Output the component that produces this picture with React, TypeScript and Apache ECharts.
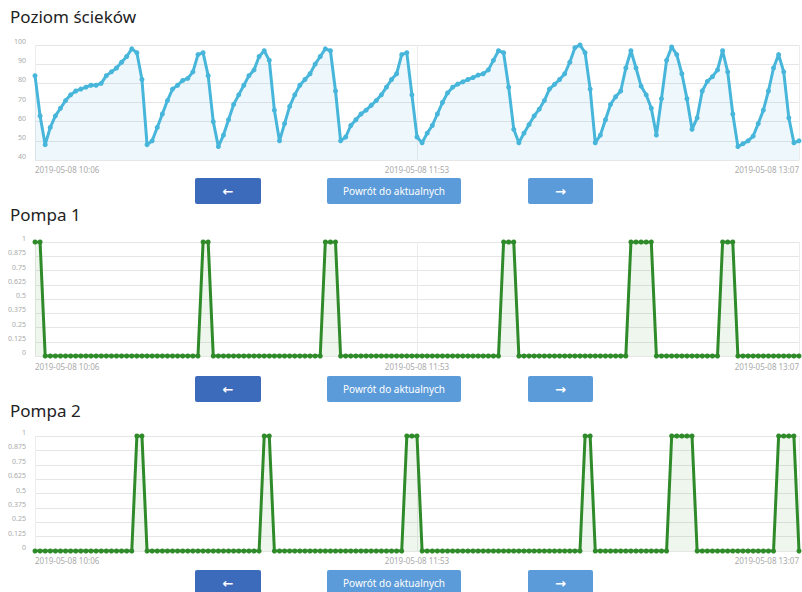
import React, { useEffect, useRef } from "react";
import * as echarts from "echarts";

// Poziom ścieków (level, %)
const levelValues = [
  84, 63, 48, 57, 63, 67, 71, 74, 76, 77,
  78, 79, 79, 80, 84, 86, 88, 91, 94, 98,
  96, 82, 48, 50, 57, 64, 71, 77, 79, 81.5,
  82.6, 86, 95, 96, 84, 60, 47, 53, 61, 69,
  74, 79, 84, 87, 94, 97, 92, 66, 50, 59,
  68, 74, 79, 82, 85, 90, 94, 98, 97, 76,
  50, 52, 58, 61, 64, 66, 68.5, 71, 74, 78,
  82, 85, 95, 96, 74, 52, 49, 54, 58, 64,
  70, 75, 78, 79.6, 80.8, 82, 83, 84.3, 85, 87,
  92, 97, 96, 78, 56, 49, 54, 58.5, 63, 66.5,
  71, 77, 79.5, 82, 85, 91, 98.6, 100, 96, 77,
  49, 53, 61, 69, 73, 76, 88, 97, 88, 78.5,
  74, 67, 53, 72, 92, 99, 95, 85, 72, 56,
  62, 76, 81, 83.5, 87, 97, 86, 64, 47, 48.5,
  50, 52.5, 59, 66, 76, 88, 95, 86, 62, 49,
  50,
];

// Pompa 1 state (0/1)
const pump1Values = [
  1, 1, 0, 0, 0, 0, 0, 0, 0, 0,
  0, 0, 0, 0, 0, 0, 0, 0, 0, 0,
  0, 0, 0, 0, 0, 0, 0, 0, 0, 0,
  0, 0, 0, 1, 1, 0, 0, 0, 0, 0,
  0, 0, 0, 0, 0, 0, 0, 0, 0, 0,
  0, 0, 0, 0, 0, 0, 0, 1, 1, 1,
  0, 0, 0, 0, 0, 0, 0, 0, 0, 0,
  0, 0, 0, 0, 0, 0, 0, 0, 0, 0,
  0, 0, 0, 0, 0, 0, 0, 0, 0, 0,
  0, 0, 1, 1, 1, 0, 0, 0, 0, 0,
  0, 0, 0, 0, 0, 0, 0, 0, 0, 0,
  0, 0, 0, 0, 0, 0, 0, 1, 1, 1,
  1, 1, 0, 0, 0, 0, 0, 0, 0, 0,
  0, 0, 0, 0, 0, 1, 1, 1, 0, 0,
  0, 0, 0, 0, 0, 0, 0, 0, 0, 0,
  0,
];

// Pompa 2 state (0/1)
const pump2Values = [
  0, 0, 0, 0, 0, 0, 0, 0, 0, 0,
  0, 0, 0, 0, 0, 0, 0, 0, 0, 0,
  1, 1, 0, 0, 0, 0, 0, 0, 0, 0,
  0, 0, 0, 0, 0, 0, 0, 0, 0, 0,
  0, 0, 0, 0, 0, 1, 1, 0, 0, 0,
  0, 0, 0, 0, 0, 0, 0, 0, 0, 0,
  0, 0, 0, 0, 0, 0, 0, 0, 0, 0,
  0, 0, 0, 1, 1, 1, 0, 0, 0, 0,
  0, 0, 0, 0, 0, 0, 0, 0, 0, 0,
  0, 0, 0, 0, 0, 0, 0, 0, 0, 0,
  0, 0, 0, 0, 0, 0, 0, 0, 1, 1,
  0, 0, 0, 0, 0, 0, 0, 0, 0, 0,
  0, 0, 0, 0, 0, 1, 1, 1, 1, 1,
  0, 0, 0, 0, 0, 0, 0, 0, 0, 0,
  0, 0, 0, 0, 0, 0, 1, 1, 1, 1,
  0,
];

const xTickIndex = [0, 75, 150];
const xTickLabels = ["2019-05-08 10:06", "2019-05-08 11:53", "2019-05-08 13:07"];

const chartTitles = ["Poziom ścieków", "Pompa 1", "Pompa 2"];
const buttonLabels = ["←", "Powrót do aktualnych", "→"];

const LEVEL_COLOR = "#47b6da";
const PUMP_COLOR = "#2f8a2a";

export default function App() {
  const ref = useRef<HTMLDivElement>(null);

  useEffect(() => {
    document.body.style.margin = "0";
    const chart = echarts.init(ref.current!, null, { renderer: "svg" });
    const categories = levelValues.map((_, i) => String(i));
    const showTick = (idx: number) => xTickIndex.indexOf(idx) >= 0;

    const grids = [
      { left: 35, right: 2, top: 45, height: 115 },
      { left: 35, right: 2, top: 242, height: 114 },
      { left: 35, right: 2, top: 436, height: 115 },
    ];

    const xAxes = grids.map((_, g) => ({
      type: "category",
      gridIndex: g,
      data: categories,
      boundaryGap: false,
      axisLine: { show: false },
      axisTick: { show: false },
      axisLabel: {
        interval: (idx: number) => showTick(idx),
        formatter: (_v: string, idx: number) => {
          const k = xTickIndex.indexOf(idx);
          return k >= 0 ? xTickLabels[k] : "";
        },
        fontSize: 8,
        color: "#aaa",
        fontFamily: "Noto Sans",
        margin: g === 1 ? 6 : 5,
        alignMinLabel: "left",
        alignMaxLabel: "right",
        showMinLabel: true,
        showMaxLabel: true,
      },
      splitLine: {
        show: true,
        interval: (idx: number) => showTick(idx),
        lineStyle: { color: "#ececec", width: 1 },
      },
    }));

    const yLabel = {
      fontSize: 7,
      color: "#aaa",
      fontFamily: "Noto Sans",
      margin: 9,
      verticalAlign: "bottom",
    };
    const ySplit = { show: true, lineStyle: { color: "#e6e6e6", width: 1 } };

    const yAxes = [
      {
        type: "value", gridIndex: 0, min: 40, max: 100, interval: 10,
        axisLine: { show: false }, axisTick: { show: false },
        axisLabel: yLabel, splitLine: ySplit,
      },
      {
        type: "value", gridIndex: 1, min: 0, max: 1, interval: 0.125,
        axisLine: { show: false }, axisTick: { show: false },
        axisLabel: yLabel, splitLine: ySplit,
      },
      {
        type: "value", gridIndex: 2, min: 0, max: 1, interval: 0.125,
        axisLine: { show: false }, axisTick: { show: false },
        axisLabel: yLabel, splitLine: ySplit,
      },
    ];

    const mkSeries = (idx: number, data: number[], color: string, fill: string) => ({
      type: "line",
      xAxisIndex: idx,
      yAxisIndex: idx,
      data,
      symbol: "circle",
      symbolSize: 5,
      showSymbol: true,
      showAllSymbol: true,
      lineStyle: { color, width: 3 },
      itemStyle: { color },
      areaStyle: { color: fill },
      silent: true,
    });

    const titleTops = [8, 206, 402];
    const titles = chartTitles.map((t, i) => ({
      text: t,
      left: 10,
      top: titleTops[i],
      padding: 0,
      textStyle: { fontSize: 17, fontWeight: "normal", color: "#222", fontFamily: "Noto Sans" },
    }));

    const rowTops = [178, 376, 570];
    const btns = [
      { x: 195, w: 66, color: "#3d6bbb", font: "bold 13px DejaVu Sans" },
      { x: 327, w: 134, color: "#5b9bd9", font: "10px Noto Sans" },
      { x: 528, w: 65, color: "#5b9bd9", font: "bold 13px DejaVu Sans" },
    ];
    const graphic: any[] = [];
    rowTops.forEach((ty) => {
      btns.forEach((b, k) => {
        graphic.push({
          type: "rect",
          shape: { x: b.x, y: ty, width: b.w, height: 26, r: 2 },
          style: { fill: b.color },
          silent: true,
        });
        graphic.push({
          type: "text",
          x: b.x + b.w / 2,
          y: ty + 13,
          style: {
            text: buttonLabels[k],
            fill: "#fff",
            font: b.font,
            align: "center",
            verticalAlign: "middle",
            textAlign: "center",
            textVerticalAlign: "middle",
          },
          silent: true,
        });
      });
    });

    chart.setOption({
      animation: false,
      backgroundColor: "#fff",
      title: titles,
      grid: grids,
      xAxis: xAxes,
      yAxis: yAxes,
      series: [
        mkSeries(0, levelValues, LEVEL_COLOR, "rgba(71,182,218,0.13)"),
        mkSeries(1, pump1Values, PUMP_COLOR, "rgba(70,150,50,0.13)"),
        mkSeries(2, pump2Values, PUMP_COLOR, "rgba(70,150,50,0.13)"),
      ],
      graphic,
    });

    return () => chart.dispose();
  }, []);

  return (
    <div
      ref={ref}
      style={{ position: "absolute", left: 0, top: 0, width: 802, height: 592 }}
    />
  );
}
